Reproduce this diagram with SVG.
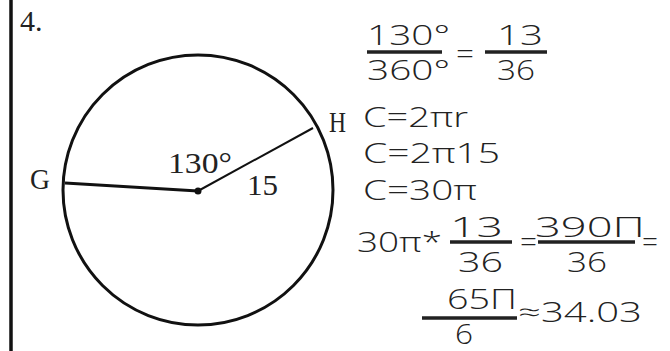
<svg xmlns="http://www.w3.org/2000/svg" width="670" height="351" viewBox="0 0 670 351">
<style>
.serif{font-family:"Liberation Serif","DejaVu Serif",serif;font-size:30px;fill:#222}
.hand{font-family:"Open Sans","DejaVu Sans",sans-serif;font-weight:300;font-size:27px;fill:#222}
.bar{stroke:#222;stroke-width:3.5}
.line{stroke:#111;fill:none}
</style>
<rect width="670" height="351" fill="#fff"/>
<line x1="11" y1="0" x2="11" y2="351" stroke="#111" stroke-width="3.5"/>
<text class="serif" x="20" y="31">4.</text>
<g id="circle">
<circle cx="198" cy="190" r="135" class="line" stroke-width="3"/>
</g>
<g id="connectors">
<line x1="65" y1="183" x2="198" y2="191" class="line" stroke-width="3"/>
<line x1="198" y1="191" x2="313" y2="128" class="line" stroke-width="2"/>
</g>
<g id="center"><circle cx="198" cy="191" r="3.5" fill="#111"/></g>
<g id="labels">
<text class="serif" x="30" y="189" textLength="20" lengthAdjust="spacingAndGlyphs">G</text>
<text class="serif" x="329" y="132" textLength="17" lengthAdjust="spacingAndGlyphs">H</text>
<text class="serif" x="168" y="173" textLength="64" lengthAdjust="spacingAndGlyphs">130°</text>
<text class="serif" x="247" y="195" textLength="31" lengthAdjust="spacingAndGlyphs">15</text>
</g>
<g id="work">
<text class="hand" x="367" y="45" textLength="83" lengthAdjust="spacingAndGlyphs">130°</text>
<line class="bar" x1="367" y1="52" x2="442" y2="52"/>
<text class="hand" x="367" y="80" textLength="83" lengthAdjust="spacingAndGlyphs">360°</text>
<text class="hand" x="456" y="64" textLength="18" lengthAdjust="spacingAndGlyphs">=</text>
<line class="bar" x1="485" y1="52" x2="547" y2="52"/>
<text class="hand" x="497" y="45" textLength="46" lengthAdjust="spacingAndGlyphs">13</text>
<text class="hand" x="497" y="80" textLength="38" lengthAdjust="spacingAndGlyphs">36</text>
<text class="hand" x="363" y="127" textLength="105" lengthAdjust="spacingAndGlyphs">C=2πr</text>
<text class="hand" x="363" y="163" textLength="137" lengthAdjust="spacingAndGlyphs">C=2π15</text>
<text class="hand" x="363" y="200" textLength="114" lengthAdjust="spacingAndGlyphs">C=30π</text>
<text class="hand" x="357" y="252" textLength="85" lengthAdjust="spacingAndGlyphs">30π*</text>
<text class="hand" x="450" y="237" textLength="53" lengthAdjust="spacingAndGlyphs">13</text>
<line class="bar" x1="450" y1="242" x2="512" y2="242"/>
<text class="hand" x="458" y="272" textLength="45" lengthAdjust="spacingAndGlyphs">36</text>
<text class="hand" x="520" y="252" font-size="30" textLength="17" lengthAdjust="spacingAndGlyphs">=</text>
<text class="hand" x="535" y="237" textLength="110" lengthAdjust="spacingAndGlyphs">390Π</text>
<line class="bar" x1="538" y1="242" x2="635" y2="242"/>
<text class="hand" x="567" y="272" textLength="40" lengthAdjust="spacingAndGlyphs">36</text>
<text class="hand" x="642" y="252" font-size="30" textLength="16" lengthAdjust="spacingAndGlyphs">=</text>
<text class="hand" x="447" y="309" textLength="70" lengthAdjust="spacingAndGlyphs">65Π</text>
<line class="bar" x1="422" y1="318" x2="517" y2="318"/>
<text class="hand" x="455" y="344" font-size="22" textLength="18" lengthAdjust="spacingAndGlyphs">6</text>
<text class="hand" x="518" y="322" textLength="124" lengthAdjust="spacingAndGlyphs">≈34.03</text>
</g>
</svg>
